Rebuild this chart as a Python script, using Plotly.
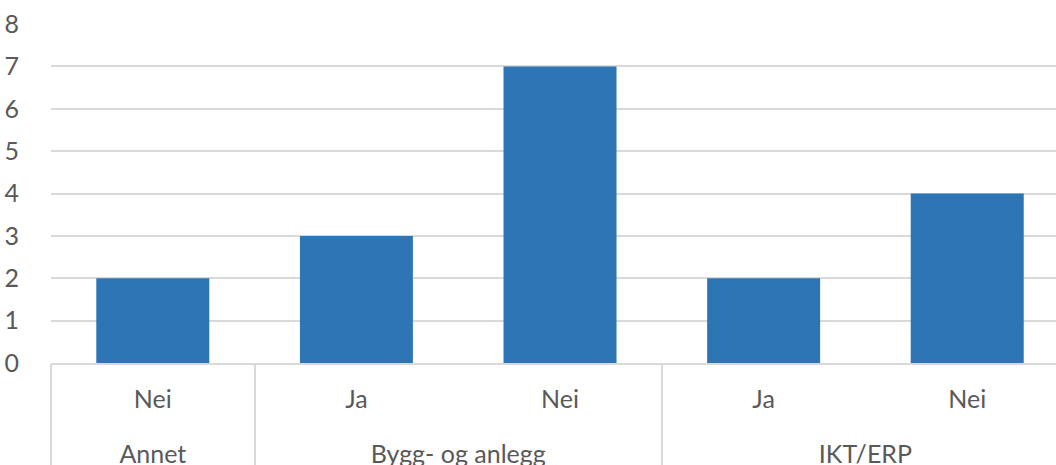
import plotly.graph_objects as go

# Survey counts grouped by area and answer
groups = ["Annet", "Bygg- og anlegg", "Bygg- og anlegg", "IKT/ERP", "IKT/ERP"]
answers = ["Nei", "Ja", "Nei", "Ja", "Nei"]
counts = [2, 3, 7, 2, 4]
y_ticks = [0, 1, 2, 3, 4, 5, 6, 7, 8]

BAR_COLOR = "#2E75B6"
GRID = "#D9D9D9"
TEXT = "#595959"
FONT = "Lato"
FS = 25

W, H = 1056, 465
M_TOP, PLOT_BOTTOM = 24, 363

pos = list(range(len(counts)))

# group spans: first/last position of each consecutive group
spans = []
for i, g in enumerate(groups):
    if spans and spans[-1][0] == g:
        spans[-1][2] = i
    else:
        spans.append([g, i, i])
group_centers = [(a + b) / 2 for _, a, b in spans]
group_names = [g for g, _, _ in spans]
boundaries = [a - 0.5 for _, a, _ in spans]

x_range = [-0.5, 4.436]

fig = go.Figure(
    go.Bar(
        x=pos,
        y=counts,
        marker=dict(color=BAR_COLOR, line=dict(width=0)),
        customdata=list(zip(groups, answers)),
        hovertemplate="%{customdata[0]} / %{customdata[1]}: %{y}<extra></extra>",
    )
)

paper_h = H - M_TOP
dom_low = (H - PLOT_BOTTOM) / paper_h

fig.update_layout(
    width=W,
    height=H,
    margin=dict(l=51, r=0, t=M_TOP, b=0, autoexpand=False),
    paper_bgcolor="white",
    plot_bgcolor="white",
    bargap=0.445,
    showlegend=False,
    font=dict(family=FONT, size=FS, color=TEXT),
    yaxis=dict(
        domain=[dom_low, 1],
        range=[0, 8],
        tickvals=y_ticks,
        showgrid=True,
        gridcolor=GRID,
        gridwidth=2,
        zeroline=False,
        showline=False,
        ticks="outside",
        ticklen=26,
        tickcolor="rgba(0,0,0,0)",
        tickfont=dict(family=FONT, size=FS, color=TEXT),
        automargin=False,
    ),
    # inner level: answer labels
    xaxis=dict(
        anchor="y",
        range=x_range,
        tickvals=pos,
        ticktext=answers,
        showgrid=False,
        zeroline=False,
        showline=True,
        linecolor=GRID,
        linewidth=2,
        ticks="outside",
        ticklen=13,
        tickcolor="rgba(0,0,0,0)",
        tickfont=dict(family=FONT, size=FS, color=TEXT),
        automargin=False,
    ),
    # group dividers drawn as long ticks at group boundaries
    xaxis2=dict(
        overlaying="x",
        anchor="y",
        range=x_range,
        tickvals=boundaries,
        showticklabels=False,
        showgrid=False,
        zeroline=False,
        showline=False,
        ticks="outside",
        ticklen=120,
        tickwidth=2,
        tickcolor=GRID,
        automargin=False,
    ),
    # outer level: group labels
    xaxis3=dict(
        overlaying="x",
        anchor="free",
        position=(H - 437) / paper_h,
        range=x_range,
        tickvals=group_centers,
        ticktext=group_names,
        showgrid=False,
        zeroline=False,
        showline=False,
        ticks="",
        tickfont=dict(family=FONT, size=FS, color=TEXT),
        automargin=False,
    ),
)

# invisible traces so the overlay axes are drawn
for ax in ("x2", "x3"):
    fig.add_trace(go.Scatter(x=[None], y=[None], xaxis=ax, yaxis="y",
                             showlegend=False, hoverinfo="skip"))

fig.write_html("out.html")
